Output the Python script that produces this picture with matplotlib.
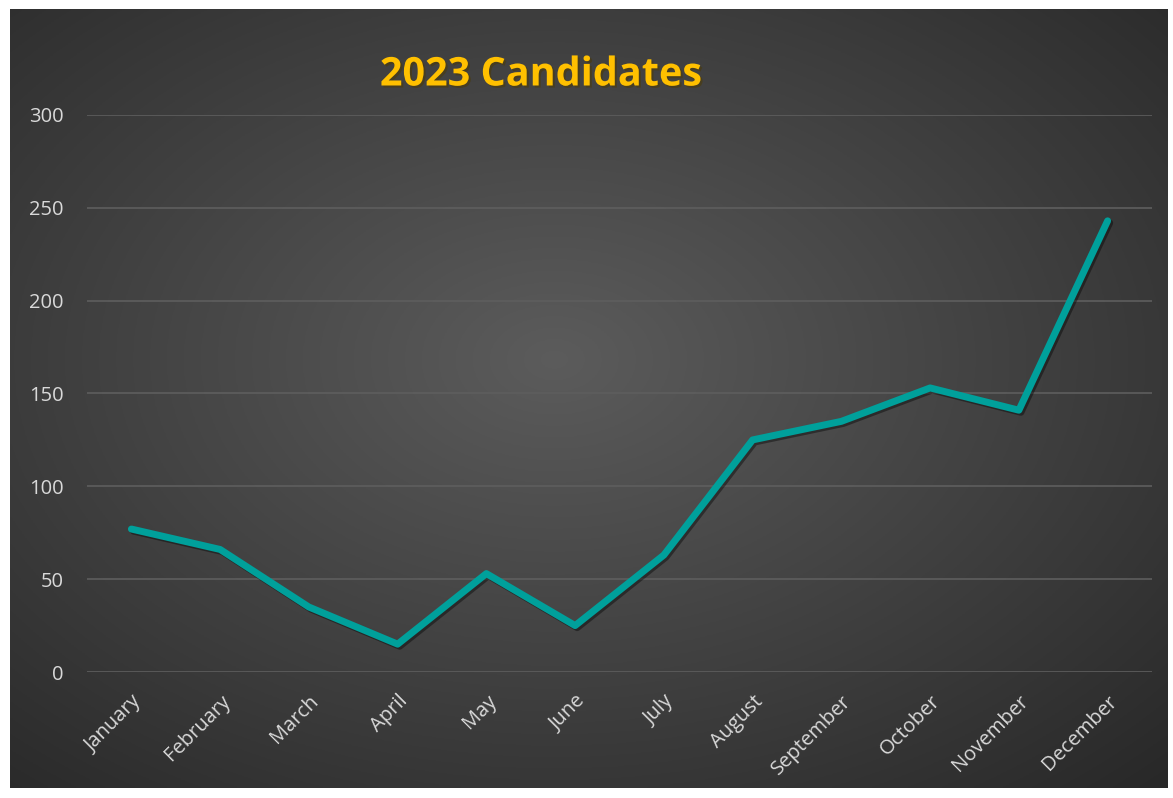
import matplotlib.pyplot as plt
import matplotlib.patheffects as pe
import numpy as np

months = ["January", "February", "March", "April", "May", "June",
          "July", "August", "September", "October", "November", "December"]
candidates = [77, 66, 35, 15, 53, 25, 63, 125, 135, 153, 141, 243]
yticks = [0, 50, 100, 150, 200, 250, 300]

fig = plt.figure(figsize=(11.73, 7.98), dpi=100)
fig.patch.set_facecolor("white")

# dark radial gradient panel
bg = fig.add_axes([10 / 1173, 10 / 798, 1158 / 1173, 779 / 798])
gx, gy = np.meshgrid(np.linspace(0, 1, 400), np.linspace(0, 1, 300))
d = np.sqrt(((gx - 0.47) / 0.75) ** 2 + ((gy - 0.55) / 0.75) ** 2)
d = np.clip(d, 0, 1)
shade = 0.36 - 0.20 * d
img = np.dstack([shade, shade, shade])
bg.imshow(img, extent=[0, 1, 0, 1], aspect="auto", origin="lower")
bg.axis("off")

ax = fig.add_axes([87 / 1173, 1 - 672 / 798, (1152 - 87) / 1173, (672 - 115) / 798])
ax.patch.set_alpha(0)
x = np.arange(len(months))
ax.plot(x, candidates, color="#00a09b", lw=5, solid_capstyle="round",
        solid_joinstyle="round", zorder=3,
        path_effects=[pe.SimpleLineShadow(offset=(1.5, -1.5), alpha=0.4), pe.Normal()])
ax.set_xlim(-0.5, len(months) - 0.5)
ax.set_ylim(0, 300)
ax.set_yticks(yticks)
ax.set_xticks(x)
ax.set_xticklabels(months, rotation=45, ha="right", rotation_mode="anchor")
ax.tick_params(length=0, colors="#d9d9d9", labelsize=14.5)
ax.tick_params(axis="x", pad=14)
ax.tick_params(axis="y", pad=17)
for lab in ax.get_xticklabels() + ax.get_yticklabels():
    lab.set_fontfamily("Open Sans")
ax.grid(axis="y", color="#5e5e5e", lw=1.2)
ax.set_axisbelow(True)
for s in ax.spines.values():
    s.set_visible(False)

fig.text(541 / 1173, 1 - 75 / 798, "2023 Candidates", color="#ffc000",
         fontsize=28.5, fontweight="bold", family="Open Sans", ha="center", va="center",
         path_effects=[pe.withSimplePatchShadow(offset=(1.5, -1.5), alpha=0.5)])

fig.savefig("out.png", dpi=100)
